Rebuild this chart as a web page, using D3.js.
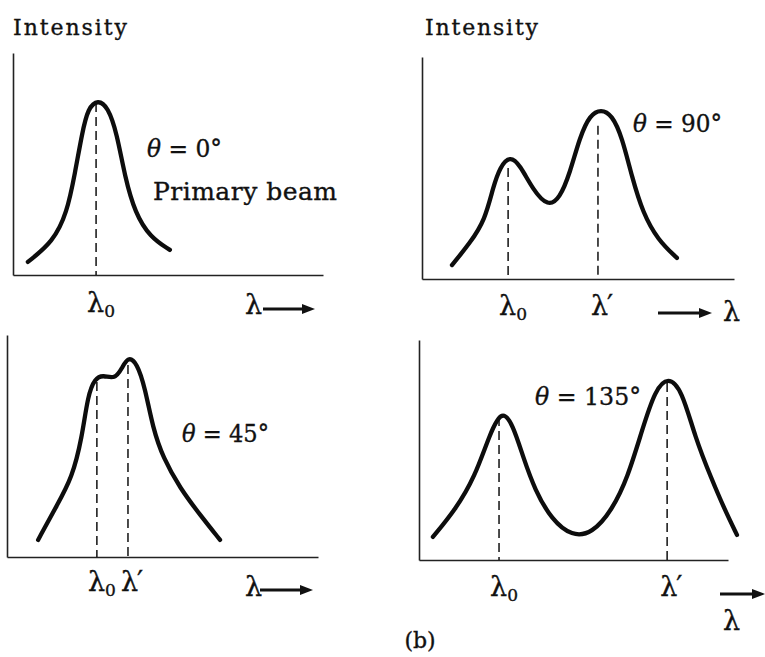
<!DOCTYPE html>
<html>
<head>
<meta charset="utf-8">
<script src="https://cdn.jsdelivr.net/npm/d3@7"></script>
<style>
  html, body { margin: 0; padding: 0; background: #fff; }
</style>
</head>
<body>
<div id="chart"></div>
<script>
// Compton scattering spectra at four angles (arbitrary units 0-100)

const theta0Lambda    = [4.8, 12.9, 17.4, 20.0, 22.3, 24.2, 27.4, 30.6, 33.5, 36.1, 39.4, 44.2, 50.6];
const theta0Intensity = [5.9, 14.9, 27.9, 45.9, 64.0, 75.2, 79.0, 75.7, 64.0, 44.1, 27.9, 17.1, 11.3];

const theta90Lambda    = [9.6, 15.4, 20.2, 22.8, 25.0, 28.2, 31.4, 35.6, 40.4, 44.2, 47.4, 50.6, 53.8, 57.4, 60.9, 64.1, 67.3, 70.8, 75.6, 81.7];
const theta90Intensity = [6.3, 16.2, 26.6, 41.4, 50.5, 55.5, 51.4, 40.1, 32.5, 36.5, 47.7, 64.0, 73.9, 76.5, 73.9, 64.0, 45.9, 29.7, 17.6, 9.5];

const theta45Lambda    = [10.0, 16.1, 20.9, 24.1, 26.0, 28.3, 30.9, 34.7, 37.0, 38.9, 41.8, 44.4, 46.9, 50.2, 55.6, 62.1, 68.5];
const theta45Intensity = [7.7, 23.4, 35.6, 53.6, 73.0, 80.5, 82.0, 80.0, 85.1, 90.3, 87.5, 76.1, 58.1, 44.6, 31.1, 18.9, 7.7];

const theta135Lambda    = [4.5, 11.7, 18.1, 23.0, 26.9, 30.4, 33.7, 37.5, 43.0, 49.5, 56.0, 62.5, 67.6, 72.2, 76.4, 80.6, 85.1, 89.3, 94.8, 99.0, 102.9];
const theta135Intensity = [10.5, 22.7, 37.7, 57.7, 68.5, 61.4, 46.8, 31.8, 18.2, 10.8, 12.0, 22.7, 37.7, 59.1, 77.3, 83.5, 77.3, 55.9, 36.4, 22.7, 11.4];

// wavelength positions of the marked peaks (lambda0, lambda') and where each dashed line starts
const theta0Peaks   = [26.8];        const theta0DashTop   = [77.5];
const theta90Peaks  = [27.6, 56.4];  const theta90DashTop  = [50, 69];
const theta45Peaks  = [28.9, 38.9];  const theta45DashTop  = [78.8, 86.5];
const theta135Peaks = [25.9, 80.3];  const theta135DashTop = [65, 80.5];

const peakLabels = ["0", "′"];  // subscript 0 for λ0, prime for λ'

const width = 765, height = 657;
const serif = '"DejaVu Serif", "Liberation Serif", serif';

const svg = d3.select("#chart")
  .append("svg")
  .attr("width", width)
  .attr("height", height)
  .attr("font-family", serif);

// helper for fitted text (thin stroke mimics the heavy print)
function label(x, y, size, len, adjust = "spacing") {
  const t = svg.append("text")
    .attr("x", x)
    .attr("y", y)
    .attr("font-size", size)
    .attr("fill", "#111")
    .attr("stroke", "#111")
    .attr("stroke-width", 0.35);
  if (len) t.attr("textLength", len).attr("lengthAdjust", adjust);
  return t;
}

function thetaLabel(x, y, value, len) {
  const t = label(x, y, 25, len, "spacingAndGlyphs");
  t.append("tspan").attr("font-style", "italic").text("θ");
  t.append("tspan").text(` = ${value}°`);
}

function arrow(x1, x2, y) {
  svg.append("line")
    .attr("x1", x1).attr("x2", x2 - 8)
    .attr("y1", y).attr("y2", y)
    .attr("stroke", "#111")
    .attr("stroke-width", 3);
  svg.append("path")
    .attr("d", `M${x2},${y} L${x2 - 13},${y - 5} L${x2 - 13},${y + 5} Z`)
    .attr("fill", "#111");
}

function drawPanel(frame, lambda, intensity, peaks, dashTop) {
  const x = d3.scaleLinear().domain([0, 100]).range([frame.x0, frame.x1]);
  const y = d3.scaleLinear().domain([0, 100]).range([frame.yBase, frame.yTop]);

  const g = svg.append("g");

  // axes, no ticks
  g.append("g")
    .attr("transform", `translate(0,${frame.yBase})`)
    .call(d3.axisBottom(x).ticks(0).tickSize(0).tickSizeOuter(0))
    .call(a => a.select(".domain").attr("stroke", "#222").attr("stroke-width", 1.6));
  g.append("g")
    .attr("transform", `translate(${frame.x0},0)`)
    .call(d3.axisLeft(y).ticks(0).tickSize(0).tickSizeOuter(0))
    .call(a => a.select(".domain").attr("stroke", "#222").attr("stroke-width", 1.6));
  g.selectAll(".tick").remove();

  // dashed peak markers
  g.selectAll("line.peak")
    .data(peaks)
    .enter().append("line")
    .attr("class", "peak")
    .attr("x1", d => x(d)).attr("x2", d => x(d))
    .attr("y1", (d, i) => y(dashTop[i]))
    .attr("y2", y(0))
    .attr("stroke", "#111")
    .attr("stroke-width", 1.5)
    .attr("stroke-dasharray", "9,5");

  // spectrum curve
  const pts = lambda.map((l, i) => [l, intensity[i]]);
  const line = d3.line()
    .x(d => x(d[0]))
    .y(d => y(d[1]))
    .curve(d3.curveBasis);
  g.append("path")
    .datum(pts)
    .attr("d", line)
    .attr("fill", "none")
    .attr("stroke", "#0d0d0d")
    .attr("stroke-width", 4.3)
    .attr("stroke-linecap", "round")
    .attr("stroke-linejoin", "round");

  // lambda labels under the peaks
  peaks.forEach((p, i) => {
    const t = label(x(p) - (i === 0 ? 9 : 7), frame.labelY, 27);
    t.append("tspan").text("λ");
    if (i === 0) {
      t.append("tspan").attr("font-size", 17).attr("dy", 5).text(peakLabels[0]);
    } else {
      t.append("tspan").attr("dx", -1).text(peakLabels[1]);
    }
  });
}

// panel frames (pixel layout)
drawPanel({ x0: 13,  x1: 323, yBase: 275, yTop: 53,  labelY: 312 }, theta0Lambda,   theta0Intensity,   theta0Peaks,   theta0DashTop);
drawPanel({ x0: 422, x1: 734, yBase: 279, yTop: 57,  labelY: 315 }, theta90Lambda,  theta90Intensity,  theta90Peaks,  theta90DashTop);
drawPanel({ x0: 7,   x1: 318, yBase: 557, yTop: 335, labelY: 591 }, theta45Lambda,  theta45Intensity,  theta45Peaks,  theta45DashTop);
drawPanel({ x0: 419, x1: 728, yBase: 560, yTop: 340, labelY: 596 }, theta135Lambda, theta135Intensity, theta135Peaks, theta135DashTop);

// titles and annotations
label(13, 35, 22, 114).text("Intensity");
label(425, 35, 22, 113).text("Intensity");

thetaLabel(147, 157, 0, 75);
label(153, 200, 25, 184).text("Primary beam");
thetaLabel(633, 132, 90, 89);
thetaLabel(182, 442, 45, 87);
thetaLabel(535, 405, 135, 106);

// wavelength direction arrows
label(245, 314, 27).text("λ");
arrow(263, 315, 309);

arrow(658, 712, 313);
label(723, 321, 27).text("λ");

label(245, 596, 27).text("λ");
arrow(260, 313, 590);

arrow(720, 765, 594);
label(723, 630, 27).text("λ");

label(420, 648, 22).attr("text-anchor", "middle").text("(b)");
</script>
</body>
</html>
